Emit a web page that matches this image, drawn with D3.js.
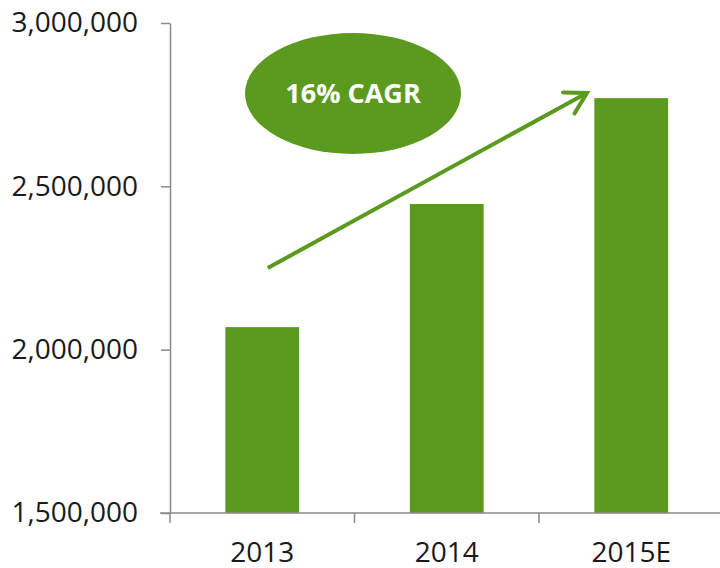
<!DOCTYPE html>
<html>
<head>
<meta charset="utf-8">
<script src="https://cdn.jsdelivr.net/npm/d3@7"></script>
<style>
  body { margin: 0; background: #fff; }
  text { font-family: "Open Sans", "Noto Sans", sans-serif; }
</style>
</head>
<body>
<svg width="720" height="568"></svg>
<script>
// **** Data ****
var years = ['2013', '2014', '2015E'];
var users = [2069000, 2446000, 2770000];
var yTicks = [1500000, 2000000, 2500000, 3000000];
var cagrLabel = '16% CAGR';
// arrow endpoints in data space (category index offset, value)
var arrowFrom = [0.03, 2250000];
var arrowTo = [1.76, 2786000];

var green = '#5b9a1e';
var axisGrey = '#8a8a8a';

// **** Scales ****
var x = d3.scaleBand().domain(years).range([170, 723.5]).paddingInner(0.6).paddingOuter(0.3);
var y = d3.scaleLinear().domain([1500000, 3000000]).range([513, 23]);

var svg = d3.select('svg');

// bars
svg.selectAll('rect.bar')
    .data(years)
    .enter()
    .append('rect')
    .attr('class', 'bar')
    .attr('x', d => x(d))
    .attr('width', x.bandwidth())
    .attr('y', (d, i) => y(users[i]))
    .attr('height', (d, i) => y(1500000) - y(users[i]))
    .attr('fill', green);

// y axis
var yAxis = svg.append('g')
    .attr('transform', 'translate(170,0)')
    .call(d3.axisLeft(y).tickValues(yTicks).tickSize(9).tickSizeOuter(0).tickPadding(23)
        .tickFormat(d3.format(',')));
yAxis.selectAll('path, line').attr('stroke', axisGrey).attr('stroke-width', 1.5);
yAxis.selectAll('text').attr('font-size', 28).attr('fill', '#1a1a1a')
    .style('font-family', '"Open Sans", sans-serif');

// x axis: line, category boundary ticks, labels
var step = x.step();
var bounds = years.map((d, i) => 170 + i * step);
svg.append('line')
    .attr('x1', 160).attr('x2', 720)
    .attr('y1', y(1500000)).attr('y2', y(1500000))
    .attr('stroke', axisGrey).attr('stroke-width', 1.5);
svg.selectAll('line.xtick')
    .data(bounds)
    .enter()
    .append('line')
    .attr('class', 'xtick')
    .attr('x1', d => d).attr('x2', d => d)
    .attr('y1', y(1500000)).attr('y2', y(1500000) + 10)
    .attr('stroke', axisGrey).attr('stroke-width', 1.5);
svg.selectAll('text.xlabel')
    .data(years)
    .enter()
    .append('text')
    .attr('class', 'xlabel')
    .attr('x', d => x(d) + x.bandwidth() / 2)
    .attr('y', 562)
    .attr('text-anchor', 'middle')
    .attr('font-size', 28)
    .attr('fill', '#1a1a1a')
    .text(d => d);

// CAGR bubble
svg.append('ellipse')
    .attr('cx', 353).attr('cy', 93.5)
    .attr('rx', 108).attr('ry', 60.5)
    .attr('fill', green);
svg.append('text')
    .attr('x', 353).attr('y', 103)
    .attr('text-anchor', 'middle')
    .attr('font-size', 27)
    .attr('font-weight', 'bold')
    .attr('fill', '#fff')
    .text(cagrLabel);

// growth arrow
function ax(p) { return x(years[0]) + x.bandwidth() / 2 + p[0] * step; }
var x1 = ax(arrowFrom), y1 = y(arrowFrom[1]);
var x2 = ax(arrowTo), y2 = y(arrowTo[1]);
svg.append('line')
    .attr('x1', x1).attr('y1', y1).attr('x2', x2 - 2).attr('y2', y2 + 1)
    .attr('stroke', green).attr('stroke-width', 4);
var ang = Math.atan2(y1 - y2, x1 - x2);
var arm = 24, spread = Math.PI / 6;
var head = [ang - spread, ang + spread].map(a => [x2 + arm * Math.cos(a), y2 + arm * Math.sin(a)]);
svg.append('path')
    .attr('d', 'M' + head[0] + 'L' + [x2, y2] + 'L' + head[1])
    .attr('fill', 'none')
    .attr('stroke', green)
    .attr('stroke-width', 4)
    .attr('stroke-linecap', 'round')
    .attr('stroke-linejoin', 'miter');
</script>
</body>
</html>
